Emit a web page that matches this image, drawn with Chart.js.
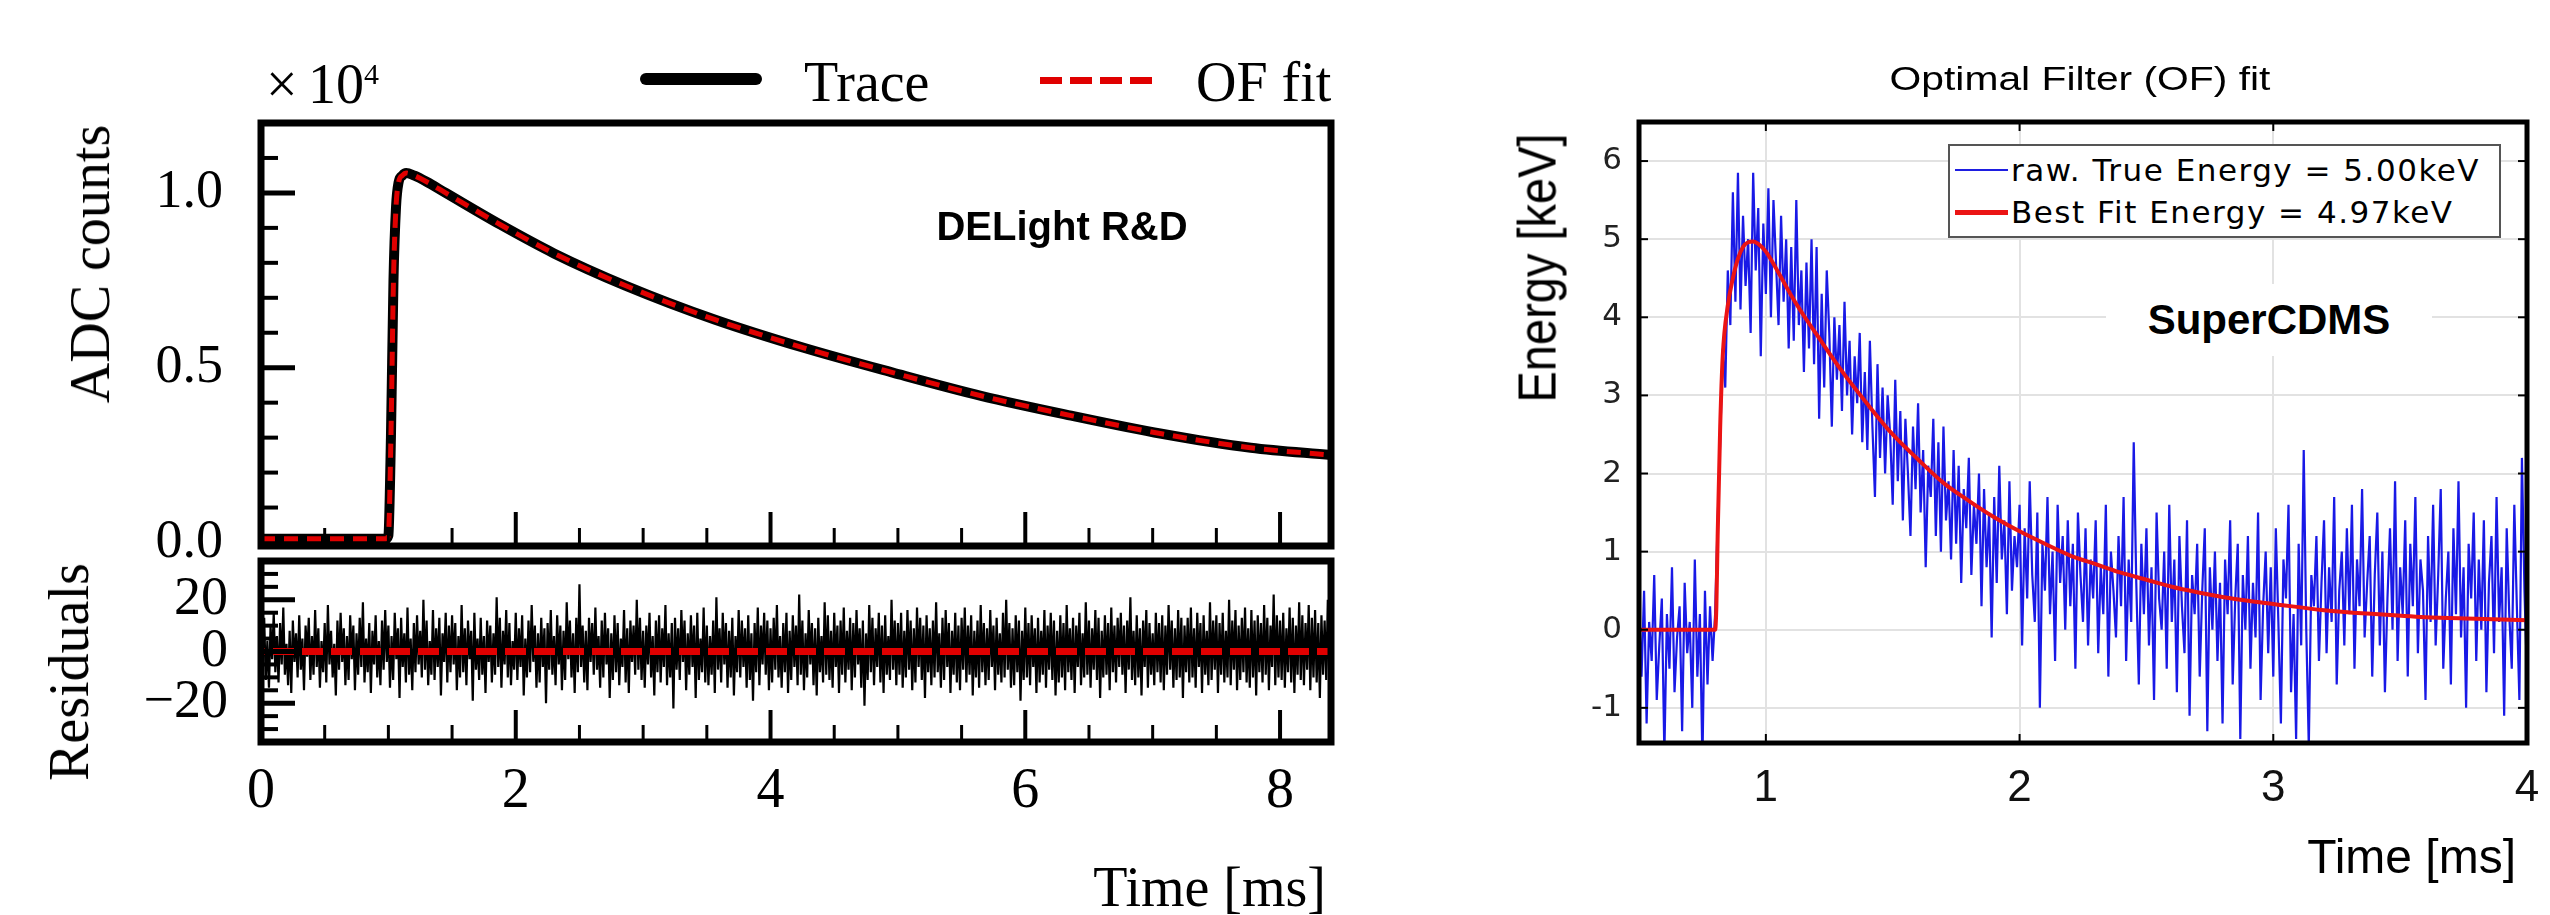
<!DOCTYPE html>
<html>
<head>
<meta charset="utf-8">
<script src="https://cdn.jsdelivr.net/npm/chart.js@4.4.1/dist/chart.umd.min.js"></script>
<style>
  html, body { margin: 0; padding: 0; background: #fff; }
  body { width: 2550px; height: 915px; position: relative; overflow: hidden; }
  canvas { position: absolute; }
  .lbl { position: absolute; white-space: nowrap; line-height: 1; color: #000; }
  .serif { font-family: 'Liberation Serif', 'Times New Roman', serif; font-size: 56px; }
  .sans { font-family: 'Liberation Sans', Arial, sans-serif; }
  .mid { transform: translate(-50%, -50%); }
</style>
</head>
<body>
<canvas id="traceChart" width="1400" height="580" style="left:0;top:0"></canvas>
<canvas id="residualChart" width="1400" height="375" style="left:0;top:540px"></canvas>
<canvas id="cdmsChart" width="1100" height="915" style="left:1450px;top:0"></canvas>

<!-- left panel texts -->
<div class="lbl serif" style="left:266px;top:84px;transform:translateY(-50%)">×</div>
<div class="lbl serif" style="left:308px;top:84px;transform:translateY(-50%)">10</div>
<div class="lbl serif" style="left:364px;top:74px;font-size:30px;transform:translateY(-50%)">4</div>
<div style="position:absolute;left:640px;top:73px;width:122px;height:12px;background:#000;border-radius:6px"></div>
<div class="lbl serif" style="left:804px;top:82px;transform:translateY(-50%)">Trace</div>
<div style="position:absolute;left:1040px;top:77px;width:112px;height:7px;background:repeating-linear-gradient(90deg,#e00000 0 22px,transparent 22px 30px)"></div>
<div class="lbl serif" style="left:1196px;top:82px;transform:translateY(-50%)">OF fit</div>
<div class="lbl sans mid" style="left:1062px;top:226px;font-size:40px;font-weight:bold">DELight R&amp;D</div>
<div class="lbl serif" style="left:90px;top:264px;transform:translate(-50%,-50%) rotate(-90deg)">ADC counts</div>
<div class="lbl serif" style="left:69px;top:672px;transform:translate(-50%,-50%) rotate(-90deg)">Residuals</div>
<div class="lbl serif" style="right:1224px;top:887px;transform:translateY(-50%)">Time [ms]</div>

<!-- right panel texts -->
<div class="lbl sans mid" style="left:2080px;top:78px;font-size:34px;transform:translate(-50%,-50%) scaleX(1.2)">Optimal Filter (OF) fit</div>
<div class="lbl sans" style="left:1537px;top:268px;font-size:47px;transform:translate(-50%,-50%) rotate(-90deg) scaleY(1.15)">Energy [keV]</div>
<div class="lbl sans" style="right:34px;top:857px;font-size:48px;transform:translateY(-50%)">Time [ms]</div>
<div style="position:absolute;left:2106px;top:284px;width:326px;height:72px;background:#fff"></div>
<div class="lbl sans mid" style="left:2269px;top:320px;font-size:42px;font-weight:bold">SuperCDMS</div>
<div style="position:absolute;left:1948px;top:144px;width:549px;height:90px;background:#fff;border:2px solid #555"></div>
<div style="position:absolute;left:1955px;top:169px;width:53px;height:2px;background:rgb(30,30,225)"></div>
<div class="lbl" style="left:2011px;top:170px;font-family:'DejaVu Sans',sans-serif;font-size:31px;letter-spacing:1.5px;transform:translateY(-50%)">raw. True Energy = 5.00keV</div>
<div style="position:absolute;left:1955px;top:210px;width:53px;height:5px;background:rgb(235,20,20)"></div>
<div class="lbl" style="left:2011px;top:212px;font-family:'DejaVu Sans',sans-serif;font-size:31px;letter-spacing:1.5px;transform:translateY(-50%)">Best Fit Energy = 4.97keV</div>

<script>
// ---- DELight R&D: trace and OF fit (ADC counts, x10^4) ----
const traceTime = [0, 0.98, 1.0, 1.02, 1.04, 1.06, 1.08, 1.11, 1.14, 1.2, 1.3, 1.45, 1.88, 2.30, 2.86, 3.56, 4.26, 4.96, 5.66, 6.36, 7.07, 7.77, 8.4];
const traceCounts = [0.011, 0.011, 0.02, 0.3, 0.75, 0.96, 1.03, 1.05, 1.057, 1.05, 1.032, 1.0, 0.909, 0.827, 0.735, 0.638, 0.557, 0.486, 0.419, 0.363, 0.311, 0.271, 0.25];
const ofFitCounts = traceCounts;

// residuals, sampled every 0.0125 ms from t = 0
const residualStart = 0;
const residualStep = 0.0125;
const residuals = [
  9, -6, 13, -11, 4, -14, 10, -3, 15, -8, 6, -12, 11, -5, 17, -9, 3, -13, 8, -16,
  12, -4, 7, -10, 14, -7, 5, -15, 10, -2, 13, -11, 6, -9, 16, -6, 9, -14, 4, -8,
  11, -12, 18, -5, 8, -10, 3, -17, 12, -7, 15, -4, 9, -13, 6, -11, 14, -3, 10, -15,
  7, -9, 13, -6, 19, -12, 5, -8, 11, -16, 8, -5, 14, -10, 4, -13, 12, -7, 16, -4,
  10, -14, 6, -11, 15, -3, 9, -18, 13, -6, 7, -12, 17, -9, 5, -15, 11, -8, 14, -5,
  8, -10, 20, -7, 12, -13, 4, -9, 16, -11, 9, -6, 13, -17, 7, -4, 15, -12, 10, -8,
  14, -5, 11, -15, 6, -10, 18, -8, 9, -13, 12, -3, 8, -19, 15, -7, 5, -11, 13, -9,
  6, -16, 12, -4, 10, -12, 7, -9, 21, -6, 13, -14, 8, -5, 16, -10, 11, -13, 4, -7,
  15, -11, 9, -6, 14, -17, 5, -10, 12, -8, 18, -4, 10, -14, 7, -12, 13, -6, 9, -20,
  11, -7, 16, -9, 6, -13, 14, -5, 10, -15, 8, -11, 19, -3, 12, -10, 7, -16, 13, -8,
  26, -6, 10, -12, 8, -15, 13, -4, 11, -9, 17, -7, 6, -14, 12, -10, 15, -5, 9, -18,
  7, -11, 14, -8, 11, -13, 5, -6, 16, -12, 9, -16, 12, -4, 10, -9, 20, -7, 13, -11,
  8, -14, 10, -5, 15, -10, 6, -17, 12, -8, 14, -12, 9, -6, 18, -13, 7, -10, 11, -22,
  13, -7, 9, -11, 16, -4, 12, -15, 7, -9, 14, -6, 10, -18, 15, -11, 5, -8, 17, -12,
  10, -13, 6, -9, 12, -16, 21, -7, 9, -12, 15, -5, 11, -14, 8, -10, 13, -17, 6, -8,
  16, -10, 12, -6, 9, -14, 14, -11, 7, -19, 11, -8, 17, -13, 10, -5, 15, -9, 12, -15,
  9, -12, 13, -7, 18, -10, 6, -14, 11, -8, 15, -16, 8, -11, 14, -6, 10, -13, 22, -9,
  12, -15, 7, -10, 16, -5, 11, -13, 9, -17, 13, -8, 6, -12, 19, -9, 14, -11, 8, -14,
  15, -6, 10, -16, 12, -9, 17, -12, 8, -7, 13, -15, 11, -10, 16, -5, 9, -14, 12, -21,
  7, -11, 18, -8, 13, -13, 9, -6, 15, -12, 10, -16, 14, -9, 6, -11, 20, -7, 12, -13,
  11, -9, 15, -14, 8, -10, 16, -7, 12, -15, 9, -12, 17, -6, 13, -11, 10, -18, 14, -8,
  9, -13, 12, -10, 19, -8, 7, -14, 13, -11, 16, -6, 11, -16, 8, -9, 15, -12, 10, -15,
  13, -7, 17, -12, 10, -9, 14, -17, 8, -10, 12, -14, 18, -8, 11, -13, 9, -11, 16, -6,
  10, -15, 13, -9, 7, -12, 15, -10, 20, -7, 11, -14, 9, -13, 14, -8, 12, -19, 8, -11,
  17, -10, 11, -13, 14, -6, 9, -16, 13, -12, 8, -9, 16, -14, 10, -7, 15, -11, 12, -17,
  8, -12, 14, -10, 11, -15, 18, -8, 9, -11, 13, -16, 10, -6, 15, -13, 7, -10, 19, -9,
  12, -14, 9, -7, 16, -11, 13, -18, 8, -10, 14, -9, 11, -15, 17, -8, 10, -12, 13, -6,
  15, -9, 10, -16, 12, -7, 21, -11, 8, -13, 14, -10, 9, -17, 12, -6, 16, -14, 11, -9,
  7, -13, 15, -8, 11, -12, 14, -15, 10, -9, 18, -7, 12, -14, 9, -11, 16, -10, 13, -18,
  10, -8, 13, -12, 17, -10, 9, -14, 15, -6, 11, -16, 14, -9, 8, -13, 19, -11, 12, -7,
  14, -16, 11, -9, 15, -12, 8, -10, 20, -13, 12, -7, 16, -15, 10, -11, 13, -8, 17, -12,
  9, -14, 16, -10, 12, -17, 14, -8, 11, -12, 18, -9, 13, -15, 10, -6, 22, -13, 14, -10,
  12, -11, 15, -14, 9, -8, 17, -12, 13, -16, 10, -9, 19, -11, 14, -13, 11, -7, 18, -15,
  13, -10, 16, -12, 11, -18, 14, -9, 12, -11, 20, -14, 15, -10, 13, -16, 17, -8, 21, -12
];
const residualFitTime = [0, 8.4];
const residualFit = [0, 0];

const timeTicksMajor = [2, 4, 6, 8];
const timeTicksMinor = [0.5, 1, 1.5, 2.5, 3, 3.5, 4.5, 5, 5.5, 6.5, 7, 7.5];
const countTicksMajor = [0.5, 1.0];
const countTicksMinor = [0.1, 0.2, 0.3, 0.4, 0.6, 0.7, 0.8, 0.9, 1.1];
const residualTicksMajor = [-20, 0, 20];
const residualTicksMinor = [-30, -25, -15, -10, -5, 5, 10, 15, 25, 30];

// ---- SuperCDMS: raw trace and best fit (keV), raw sampled every 0.01 ms from 0.5 ms ----
const rawStart = 0.5;
const rawStep = 0.01;
const rawEnergy = [
  0.3, -0.6, 0.5, -1.2, 0.1, -0.4, 0.7, -0.9, -0.2, 0.4,
  -1.6, 0.2, -0.5, 0.8, -0.8, -0.1, 0.3, -1.3, 0.6, -0.3,
  0.1, -1.0, 0.9, -0.6, 0.2, -1.7, 0.5, -0.7, 0.3, -0.4,
  0.2, 1.4, 2.4, 3.6, 3.1, 4.6, 3.9, 5.6, 4.2, 5.85,
  4.1, 5.3, 4.4, 5.0, 3.8, 5.85, 4.6, 5.4, 3.5, 5.2,
  4.3, 5.65, 4.0, 5.5, 4.7, 3.9, 5.3, 4.2, 5.0, 3.6,
  4.9, 3.7, 5.5, 3.9, 4.6, 3.3, 4.7, 3.6, 5.0, 3.4,
  4.9, 2.7, 4.3, 3.1, 4.6, 3.8, 2.6, 4.0, 3.2, 3.9,
  2.8, 4.2, 3.0, 3.7, 2.5, 3.5, 2.9, 3.8, 2.4, 3.3,
  2.3, 3.7, 2.6, 1.7, 3.4, 2.2, 3.1, 2.0, 3.0, 2.5,
  1.6, 3.2, 1.9, 2.8, 1.4, 2.7, 2.0, 1.2, 2.6, 1.8,
  2.9, 1.5, 2.3, 0.8, 2.1, 1.7, 2.7, 1.2, 2.4, 1.0,
  2.6, 1.4, 1.9, 0.9, 2.3, 1.1, 2.1, 0.6, 1.8, 1.3,
  2.2, 0.7, 1.6, 1.1, 2.0, 0.3, 1.8, 0.8, 1.5, -0.1,
  1.7, 0.6, 2.1, 0.9, 1.4, 0.2, 1.9, 0.5, 1.2, 0.8,
  1.6, -0.2, 1.3, 0.4, 1.9, 0.7, 0.1, 1.5, -1.0, 1.1,
  0.5, 1.7, 0.2, 1.0, -0.4, 1.6, 0.6, 1.2, 0.0, 1.4,
  0.3, 1.1, -0.5, 1.5, 0.7, 0.1, 1.3, -0.2, 0.9, 0.4,
  1.4, -0.3, 0.8, 0.2, 1.6, -0.6, 1.0, 0.5, -0.1, 1.2,
  0.3, 1.7, -0.4, 0.9, 0.1, 2.4, 0.6, -0.7, 1.1, 0.2,
  1.3, -0.2, 0.8, -0.9, 1.5, 0.4, 0.0, 1.0, -0.5, 1.6,
  0.1, 0.9, -0.8, 1.2, 0.3, -0.3, 1.4, -1.1, 0.7, 0.2,
  1.1, -0.6, 0.5, 1.3, -1.3, 0.8, 0.0, 1.0, -0.4, 0.6,
  -1.2, 0.9, 0.2, 1.4, -0.7, 0.4, 1.1, -1.4, 0.7, 0.0,
  1.2, -0.5, 0.6, -0.1, 1.5, -0.9, 0.3, 1.0, -0.3, 0.8,
  -0.6, 1.3, 0.1, -1.2, 0.9, 0.4, 1.6, -0.8, 0.2, -1.4,
  1.1, -0.2, 2.3, 0.0, -1.5, 0.7, 0.3, 1.2, -0.4, 0.6,
  1.4, -0.3, 0.8, 0.1, 1.7, -0.7, 0.5, 1.0, -0.2, 1.3,
  0.2, 1.6, -0.5, 0.9, 0.3, 1.8, -0.1, 0.6, 1.2, -0.6,
  0.7, 1.5, -0.2, 1.0, -0.8, 0.4, 1.3, 0.0, 1.9, -0.4,
  0.8, 0.2, 1.4, -0.6, 1.1, 0.3, 1.7, -0.3, 0.9, 0.5,
  -0.9, 1.2, 0.1, 1.6, -0.2, 0.7, 1.8, -0.5, 0.4, 1.0,
  -0.7, 1.3, 0.2, 1.9, -0.1, 0.8, -1.0, 1.1, 0.4, 1.5,
  -0.4, 0.9, 0.0, 1.4, -0.8, 0.6, 1.2, -0.3, 1.7, 0.1,
  0.8, -1.1, 1.3, 0.2, -0.5, 1.6, 0.3, -0.9, 2.2, 0.5,
  -0.6
];
const fitTime = [0.5, 0.80, 0.805, 0.81, 0.82, 0.83, 0.85, 0.87, 0.89, 0.91, 0.93, 0.95, 0.97, 1.0, 1.05, 1.1, 1.15, 1.2, 1.3, 1.4, 1.5, 1.6, 1.7, 1.8, 1.9, 2.0, 2.1, 2.2, 2.3, 2.4, 2.5, 2.6, 2.7, 2.8, 2.9, 3.0, 3.2, 3.4, 3.6, 3.8, 4.0];
const fitEnergy = [0, 0, 0.3, 1.2, 2.6, 3.5, 4.15, 4.5, 4.75, 4.9, 4.96, 4.97, 4.94, 4.84, 4.57, 4.28, 4.02, 3.78, 3.31, 2.89, 2.50, 2.18, 1.88, 1.65, 1.44, 1.26, 1.10, 0.95, 0.84, 0.73, 0.64, 0.55, 0.48, 0.42, 0.37, 0.33, 0.25, 0.20, 0.16, 0.14, 0.12];
const cdmsTimeTicks = [1, 2, 3, 4];
const cdmsEnergyTicks = [-1, 0, 1, 2, 3, 4, 5, 6];

const toPoints = (xs, ys) => ys.map((y, i) => ({ x: xs[i], y }));
const sampled = (start, step, ys) => ys.map((y, i) => ({ x: start + i * step, y }));

// keep the plot box where the picture has it: no extra room for end labels
const fixWidth = w => s => { s.width = w; s.paddingTop = 0; s.paddingBottom = 0; };
const fixHeight = h => s => { s.height = h; s.paddingLeft = 0; s.paddingRight = 0; };

// frame box + inward tick marks drawn with the chart's scales
const framePlugin = {
    id: 'frame',
    afterDatasetsDraw(chart, args, opts) {
        const { ctx, chartArea: a, scales } = chart;
        ctx.save();
        ctx.strokeStyle = '#000';
        (opts.marks || []).forEach(m => {
            const scale = scales[m.axis];
            ctx.lineWidth = m.width;
            m.values.forEach(v => {
                const p = scale.getPixelForValue(v);
                ctx.beginPath();
                if (m.side === 'bottom') { ctx.moveTo(p, a.bottom); ctx.lineTo(p, a.bottom - m.len); }
                else if (m.side === 'top') { ctx.moveTo(p, a.top); ctx.lineTo(p, a.top + m.len); }
                else if (m.side === 'left') { ctx.moveTo(a.left, p); ctx.lineTo(a.left + m.len, p); }
                else { ctx.moveTo(a.right, p); ctx.lineTo(a.right - m.len, p); }
                ctx.stroke();
            });
        });
        ctx.lineWidth = opts.border;
        ctx.strokeRect(a.left, a.top, a.right - a.left, a.bottom - a.top);
        ctx.restore();
    }
};

const serif = 'Liberation Serif, Times New Roman, serif';
const baseOptions = {
    responsive: false,
    animation: false,
    events: [],
    plugins: { legend: { display: false }, tooltip: { enabled: false } }
};

new Chart(document.getElementById('traceChart').getContext('2d'), {
    type: 'line',
    data: {
        datasets: [
            {
                label: 'OF fit',
                data: toPoints(traceTime, ofFitCounts),
                borderColor: '#e00000',
                borderWidth: 5,
                borderDash: [14, 9],
                pointRadius: 0,
                cubicInterpolationMode: 'monotone',
                order: 0
            },
            {
                label: 'Trace',
                data: toPoints(traceTime, traceCounts),
                borderColor: '#000',
                borderWidth: 10,
                pointRadius: 0,
                cubicInterpolationMode: 'monotone',
                order: 1
            }
        ]
    },
    options: {
        ...baseOptions,
        layout: { padding: { left: 0, right: 69, top: 123, bottom: 34 } },
        scales: {
            x: { type: 'linear', min: 0, max: 8.4, display: false },
            y: {
                min: -0.01,
                max: 1.2,
                afterFit: fixWidth(261),
                grid: { display: false, drawTicks: false },
                border: { display: false },
                ticks: {
                    stepSize: 0.5,
                    includeBounds: false,
                    padding: 38,
                    color: '#000',
                    font: { family: serif, size: 54 },
                    callback: v => v.toFixed(1)
                }
            }
        },
        plugins: {
            ...baseOptions.plugins,
            frame: {
                border: 7,
                marks: [
                    { axis: 'x', side: 'bottom', values: timeTicksMajor, len: 34, width: 4 },
                    { axis: 'x', side: 'bottom', values: timeTicksMinor, len: 18, width: 3 },
                    { axis: 'y', side: 'left', values: countTicksMajor, len: 34, width: 5 },
                    { axis: 'y', side: 'left', values: countTicksMinor, len: 17, width: 4 }
                ]
            }
        }
    },
    plugins: [framePlugin]
});

new Chart(document.getElementById('residualChart').getContext('2d'), {
    type: 'line',
    data: {
        datasets: [
            {
                label: 'OF fit',
                data: toPoints(residualFitTime, residualFit),
                borderColor: '#e00000',
                borderWidth: 7,
                borderDash: [21, 8],
                borderDashOffset: -12,
                pointRadius: 0,
                order: 0
            },
            {
                label: 'Residuals',
                data: sampled(residualStart, residualStep, residuals),
                borderColor: '#000',
                borderWidth: 2.2,
                pointRadius: 0,
                order: 1
            }
        ]
    },
    options: {
        ...baseOptions,
        layout: { padding: { left: 0, right: 69, top: 21, bottom: 0 } },
        scales: {
            x: {
                type: 'linear',
                min: 0,
                max: 8.4,
                afterFit: fixHeight(173),
                grid: { display: false, drawTicks: false },
                border: { display: false },
                ticks: {
                    stepSize: 2,
                    includeBounds: false,
                    padding: 17,
                    maxRotation: 0,
                    color: '#000',
                    font: { family: serif, size: 56 }
                }
            },
            y: {
                min: -35,
                max: 35,
                afterFit: fixWidth(261),
                grid: { display: false, drawTicks: false },
                border: { display: false },
                ticks: {
                    stepSize: 20,
                    includeBounds: false,
                    padding: 33,
                    color: '#000',
                    font: { family: serif, size: 54 },
                    callback: v => (v < 0 ? '\u2212' + Math.abs(v) : String(v))
                }
            }
        },
        plugins: {
            ...baseOptions.plugins,
            frame: {
                border: 7,
                marks: [
                    { axis: 'x', side: 'bottom', values: timeTicksMajor, len: 32, width: 4 },
                    { axis: 'x', side: 'bottom', values: timeTicksMinor, len: 17, width: 3 },
                    { axis: 'y', side: 'left', values: residualTicksMajor, len: 34, width: 5 },
                    { axis: 'y', side: 'left', values: residualTicksMinor, len: 17, width: 4 }
                ]
            }
        }
    },
    plugins: [framePlugin]
});

new Chart(document.getElementById('cdmsChart').getContext('2d'), {
    type: 'line',
    data: {
        datasets: [
            {
                label: 'Best Fit Energy = 4.97keV',
                data: toPoints(fitTime, fitEnergy),
                borderColor: 'rgb(235,20,20)',
                borderWidth: 4,
                pointRadius: 0,
                cubicInterpolationMode: 'monotone',
                order: 0
            },
            {
                label: 'raw. True Energy = 5.00keV',
                data: sampled(rawStart, rawStep, rawEnergy),
                borderColor: 'rgb(25,25,230)',
                borderWidth: 2.2,
                pointRadius: 0,
                order: 1
            }
        ]
    },
    options: {
        ...baseOptions,
        layout: { padding: { left: 0, right: 23, top: 122, bottom: 0 } },
        scales: {
            x: {
                type: 'linear',
                min: 0.5,
                max: 4,
                afterFit: fixHeight(172),
                grid: { color: '#e2e2e2', lineWidth: 2, drawTicks: false },
                border: { display: false },
                ticks: {
                    stepSize: 1,
                    includeBounds: false,
                    padding: 19,
                    maxRotation: 0,
                    color: '#111',
                    font: { family: 'Liberation Sans, Arial, sans-serif', size: 44 }
                }
            },
            y: {
                min: -1.45,
                max: 6.5,
                afterFit: fixWidth(189),
                grid: { color: '#e2e2e2', lineWidth: 2, drawTicks: false },
                border: { display: false },
                ticks: {
                    stepSize: 1,
                    includeBounds: false,
                    padding: 17,
                    color: '#222',
                    font: { family: 'DejaVu Sans, sans-serif', size: 31 }
                }
            }
        },
        plugins: {
            ...baseOptions.plugins,
            frame: {
                border: 5,
                marks: [
                    { axis: 'x', side: 'top', values: cdmsTimeTicks, len: 9, width: 2 },
                    { axis: 'x', side: 'bottom', values: cdmsTimeTicks, len: 9, width: 2 },
                    { axis: 'y', side: 'left', values: cdmsEnergyTicks, len: 9, width: 2 },
                    { axis: 'y', side: 'right', values: cdmsEnergyTicks, len: 9, width: 2 }
                ]
            }
        }
    },
    plugins: [framePlugin]
});
</script>
</body>
</html>
